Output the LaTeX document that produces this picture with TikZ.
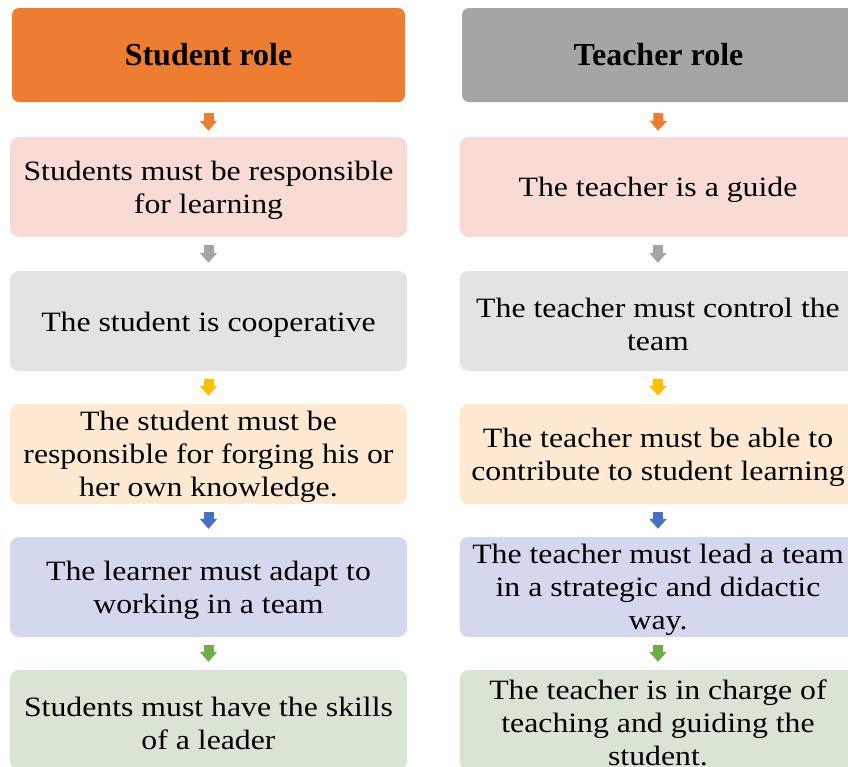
\documentclass[tikz,border=0pt]{standalone}
\usepackage{fontspec}
\setmainfont{Liberation Serif}
\newfontfamily\bodyfont[FakeStretch=1.135]{Liberation Serif}
\usetikzlibrary{arrows.meta}

\definecolor{hdorange}{HTML}{ED7D31}
\definecolor{hdgray}{HTML}{A5A5A5}
\definecolor{arrorange}{HTML}{ED7D31}
\definecolor{arrgray}{HTML}{A5A5A5}
\definecolor{arryellow}{HTML}{FFC000}
\definecolor{arrblue}{HTML}{4472C4}
\definecolor{arrgreen}{HTML}{70AD47}
\definecolor{fillpink}{HTML}{F8DBD4}
\definecolor{fillgray}{HTML}{E3E3E3}
\definecolor{fillpeach}{HTML}{FFE9D2}
\definecolor{fillblue}{HTML}{D3D8EC}
\definecolor{fillgreen}{HTML}{DAE4D4}

% the struts raise the top of each text block so that the text sits centred
\tikzset{
  header/.style={rounded corners=7pt, minimum width=393pt, minimum height=94pt,
    inner sep=0pt, align=center, font=\fontsize{32}{36}\selectfont\bfseries},
  rolebox/.style={rounded corners=9pt, minimum width=397pt, minimum height=100pt,
    inner sep=0pt, align=center, font=\fontsize{28}{33}\selectfont\bodyfont,
    execute at begin node={\rule{0pt}{26pt}}},
  twolines/.style={execute at begin node={\rule{0pt}{59pt}}},
  threelines/.style={execute at begin node={\rule{0pt}{92pt}}},
  blockarrow/.style={line width=10pt, -{Triangle[width=17pt,length=10pt]}},
}

\begin{document}
\begin{tikzpicture}[x=1pt,y=-1pt]
\useasboundingbox (0,0) rectangle (848,766);
\clip (0,0) rectangle (848,766);

% left column: student role
\node[header, fill=hdorange] (sh) at (208.5,55) {Student role};
\node[rolebox, twolines, fill=fillpink]    (s1) at (208.5,187) {Students must be responsible\\for learning};
\node[rolebox, fill=fillgray]              (s2) at (208.5,321) {The student is cooperative};
\node[rolebox, threelines, fill=fillpeach] (s3) at (208.5,454) {The student must be\\responsible for forging his or\\her own knowledge.};
\node[rolebox, twolines, fill=fillblue]    (s4) at (208.5,587) {The learner must adapt to\\working in a team};
\node[rolebox, twolines, fill=fillgreen]   (s5) at (208.5,720) {Students must have the skills\\of a leader};

% right column: teacher role
\node[header, fill=hdgray] (th) at (658.5,55) {Teacher role};
\node[rolebox, fill=fillpink]              (t1) at (658,187) {The teacher is a guide};
\node[rolebox, twolines, fill=fillgray]    (t2) at (658,321) {The teacher must control the\\team};
\node[rolebox, twolines, fill=fillpeach]   (t3) at (658,454) {The teacher must be able to\\contribute to student learning};
\node[rolebox, threelines, fill=fillblue]  (t4) at (658,587) {The teacher must lead a team\\in a strategic and didactic\\way.};
\node[rolebox, threelines, fill=fillgreen] (t5) at (658,720) {The teacher is in charge of\\teaching and guiding the\\student.};

% connectors
\draw[blockarrow, arrorange] ([yshift=-11pt]sh.south) -- ([yshift=6pt]s1.north);
\draw[blockarrow, arrgray]   ([yshift=-8pt]s1.south) -- ([yshift=8pt]s2.north);
\draw[blockarrow, arryellow] ([yshift=-8pt]s2.south) -- ([yshift=8pt]s3.north);
\draw[blockarrow, arrblue]   ([yshift=-8pt]s3.south) -- ([yshift=8pt]s4.north);
\draw[blockarrow, arrgreen]  ([yshift=-8pt]s4.south) -- ([yshift=8pt]s5.north);

\draw[blockarrow, arrorange] ([yshift=-11pt]th.south) -- ([yshift=6pt]t1.north);
\draw[blockarrow, arrgray]   ([yshift=-8pt]t1.south) -- ([yshift=8pt]t2.north);
\draw[blockarrow, arryellow] ([yshift=-8pt]t2.south) -- ([yshift=8pt]t3.north);
\draw[blockarrow, arrblue]   ([yshift=-8pt]t3.south) -- ([yshift=8pt]t4.north);
\draw[blockarrow, arrgreen]  ([yshift=-8pt]t4.south) -- ([yshift=8pt]t5.north);
\end{tikzpicture}
\end{document}
